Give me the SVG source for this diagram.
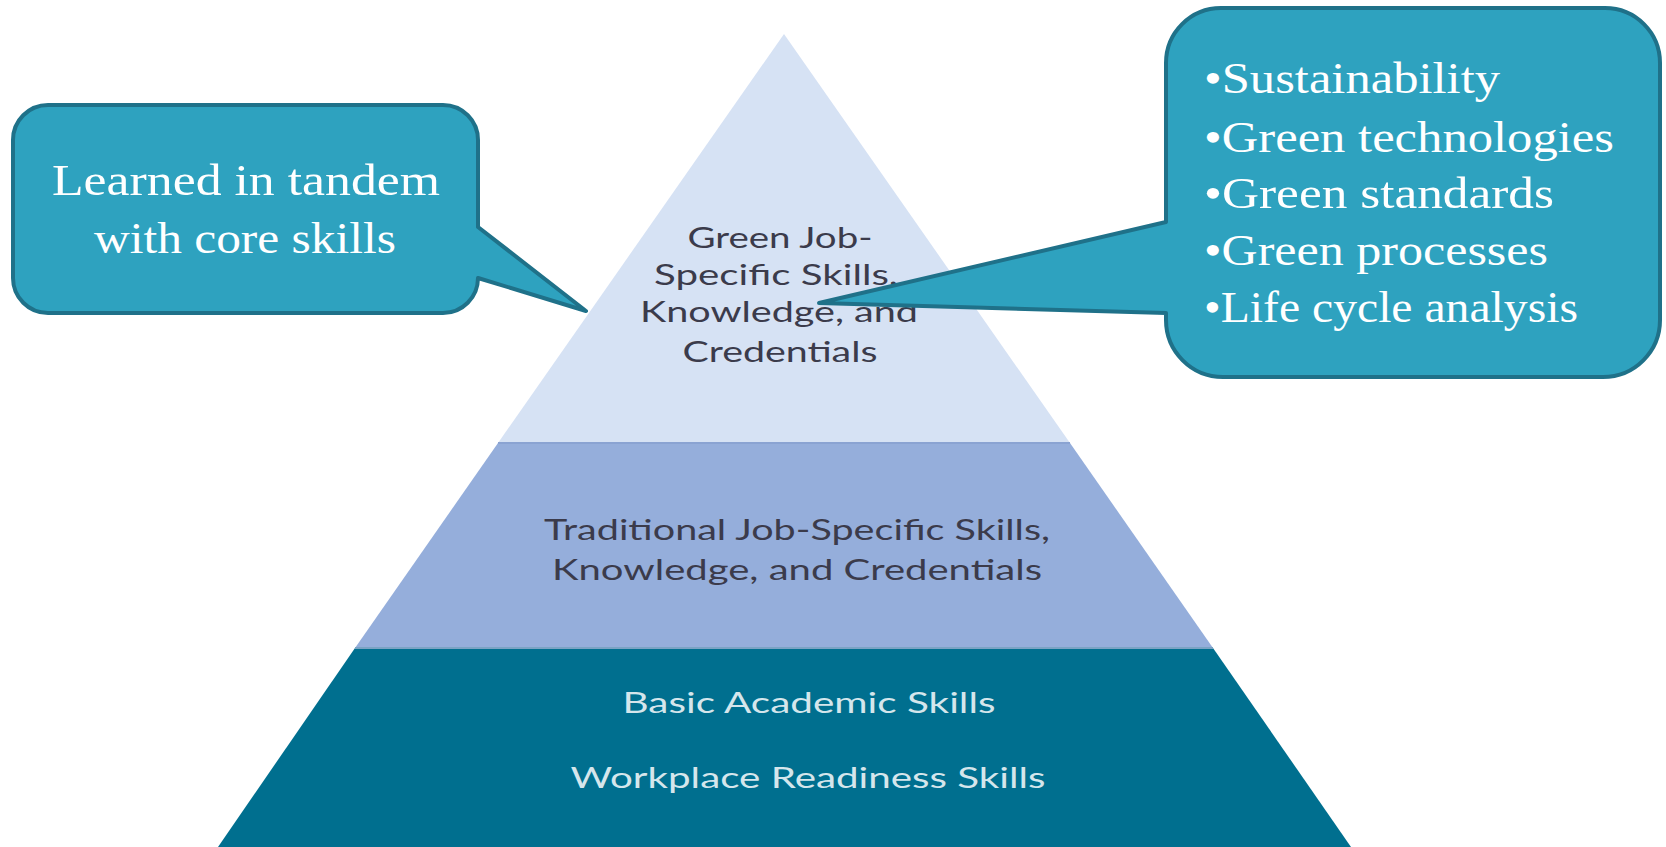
<svg xmlns="http://www.w3.org/2000/svg" width="1666" height="847" viewBox="0 0 1666 847">
<style>
.pt{font-family:Lato,"Open Sans",sans-serif;font-size:29px;fill:#3b3b4b;text-anchor:middle}
.pb{font-family:Lato,"Open Sans",sans-serif;font-size:28px;fill:#d5e6ec;text-anchor:middle}
.co{fill:#2ea2bf;stroke:#1f7189;stroke-width:4;stroke-linejoin:round}
.ct{font-family:"Liberation Serif","DejaVu Serif",serif;font-size:45px;fill:#ffffff}
</style>
<rect width="1666" height="847" fill="#ffffff"/>
<g id="layer-top">
<polygon points="784,34 1070,443 498,443" fill="#d6e2f4"/>
<text class="pt" x="780" y="248" textLength="185" lengthAdjust="spacingAndGlyphs">Green Job-</text>
<text class="pt" x="776" y="285" textLength="244" lengthAdjust="spacingAndGlyphs">Specific Skills,</text>
<text class="pt" x="779" y="322" textLength="278" lengthAdjust="spacingAndGlyphs">Knowledge, and</text>
<text class="pt" x="780" y="362" textLength="195" lengthAdjust="spacingAndGlyphs">Credentials</text>
</g>
<g id="layer-middle">
<polygon points="498,443 1070,443 1213,648 355,648" fill="#95aedb"/>
<line x1="498" y1="443" x2="1070" y2="443" stroke="#8aa3d2" stroke-width="2"/>
<text class="pt" x="797" y="540" textLength="506" lengthAdjust="spacingAndGlyphs">Traditional Job-Specific Skills,</text>
<text class="pt" x="797" y="580" textLength="490" lengthAdjust="spacingAndGlyphs">Knowledge, and Credentials</text>
</g>
<g id="layer-bottom">
<polygon points="355,648 1213,648 1351,847 218,847" fill="#006f8f"/>
<line x1="355" y1="648" x2="1213" y2="648" stroke="#7aa3c4" stroke-width="2"/>
<text class="pb" x="809" y="713" textLength="373" lengthAdjust="spacingAndGlyphs">Basic Academic Skills</text>
<text class="pb" x="808" y="788" textLength="475" lengthAdjust="spacingAndGlyphs">Workplace Readiness Skills</text>
</g>
<g id="callout-left">
<path class="co" d="M48,105 H443 A35,35 0 0 1 478,140 V227 L586,311 L478,278 A35,35 0 0 1 443,313 H48 A35,35 0 0 1 13,278 V140 A35,35 0 0 1 48,105 Z"/>
<text class="ct" x="52" y="195" textLength="388" lengthAdjust="spacingAndGlyphs">Learned in tandem</text>
<text class="ct" x="94" y="253" textLength="302" lengthAdjust="spacingAndGlyphs">with core skills</text>
</g>
<g id="callout-right">
<path class="co" d="M1221,8 H1605 A55,55 0 0 1 1660,63 V320 A57,57 0 0 1 1603,377 H1223 A57,57 0 0 1 1166,320 V313 L819,303 L1166,222 V63 A55,55 0 0 1 1221,8 Z"/>
<text class="ct" x="1204" y="93" textLength="296" lengthAdjust="spacingAndGlyphs">•Sustainability</text>
<text class="ct" x="1204" y="152" textLength="410" lengthAdjust="spacingAndGlyphs">•Green technologies</text>
<text class="ct" x="1204" y="208" textLength="350" lengthAdjust="spacingAndGlyphs">•Green standards</text>
<text class="ct" x="1204" y="265" textLength="344" lengthAdjust="spacingAndGlyphs">•Green processes</text>
<text class="ct" x="1204" y="322" textLength="374" lengthAdjust="spacingAndGlyphs">•Life cycle analysis</text>
</g>
</svg>
